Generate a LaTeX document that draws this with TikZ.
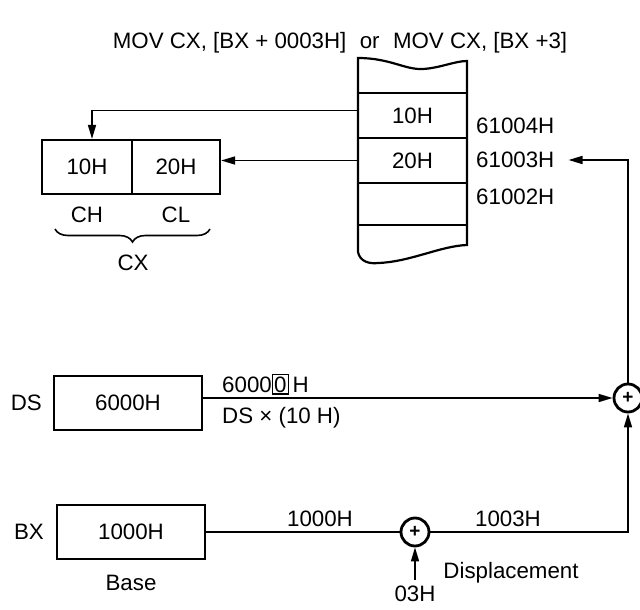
\documentclass[tikz,border=0pt]{standalone}
\usepackage{fontspec}
\setmainfont{Liberation Sans}
\usetikzlibrary{arrows.meta,decorations.pathreplacing}
\begin{document}
\begin{tikzpicture}[x=1pt,y=-1pt,
  txt/.style={font=\fontsize{22.3}{26}\selectfont, inner sep=0pt},
  reg/.style={draw, line width=2.2pt, minimum width=148pt, minimum height=54pt, txt},
  cell/.style={draw, line width=2.2pt, minimum height=54pt, txt},
  memcell/.style={minimum width=109pt, minimum height=45pt, txt},
  adder/.style={draw, circle, line width=2.8pt, minimum size=28pt, inner sep=0pt, font=\fontsize{19}{19}\selectfont\bfseries},
  conn/.style={line width=1.6pt},
  arr/.style={conn, -{Triangle[length=14pt,width=8pt]}}
]
\useasboundingbox (0,0) rectangle (640,610);

% title
\node[txt] (title) at (340,43) {MOV CX, [BX + 0003H]\hspace{0.6em}or\hspace{0.6em}MOV CX, [BX +3]};

% memory column
\draw[line width=2.2pt] (358,58) .. controls (390,58) and (405,70) .. (423,69)
  .. controls (440,68) and (455,61) .. (467,61) -- (467,245)
  .. controls (440,246) and (410,262) .. (378,263)
  .. controls (370,264) and (360,262) .. (358,252) -- cycle;
\foreach \yy in {93,138,183,225} \draw[line width=2.2pt] (358,\yy) -- (467,\yy);
\node[memcell] (m4) at (412.5,115.5) {10H};
\node[memcell] (m3) at (412.5,160.5) {20H};
\node[txt, anchor=west] (a4) at (476,126) {61004H};
\node[txt, anchor=west] (a3) at (476,160) {61003H};
\node[txt, anchor=west] (a2) at (476,197) {61002H};

% CX register
\node[cell, minimum width=90pt] (ch) at (87,167) {10H};
\node[cell, minimum width=88pt] (cl) at (176,167) {20H};
\node[txt] (chl) at (87,215) {CH};
\node[txt] (cll) at (176,215) {CL};
\draw[line width=1.6pt, decorate, decoration={brace, mirror, amplitude=13pt}] (55,229) -- (210,229);
\node[txt] (cx) at (133,263) {CX};

\draw[arr] ([yshift=5pt]m4.west) -| ([xshift=5pt]ch.north);
\draw[arr] (m3.west) -- (m3.west -| cl.east);

% DS
\node[txt, anchor=east] (dsl) at (42,403) {DS};
\node[reg] (ds) at (128,403) {6000H};
\node[adder] (p1) at (628,398) {+};
\draw[arr] (ds.east |- p1.west) -- (p1.west);
\node[txt, anchor=base west] (lab6) at (222,392) {\setlength{\fboxsep}{1pt}\setlength{\fboxrule}{1.4pt}6000\fbox{0}\,H};
\node[txt, anchor=north west] (labds) at (222,407) {DS × (10 H)};

% BX
\node[txt, anchor=east] (bxl) at (44,532) {BX};
\node[reg] (bx) at (131,532) {1000H};
\node[txt] (base) at (131,583) {Base};
\node[adder] (p2) at (415,532) {+};
\draw[conn] (bx.east) -- (p2.west);
\node[txt, anchor=south] (l1000) at (320,527) {1000H};
\node[txt, anchor=south] (l1003) at (508,527) {1003H};
\draw[arr] (p2.east) -| (p1.south);
\node[txt] (disp) at (511,573) {Displacement};
\node[txt] (d03) at (415,594) {03H};
\draw[arr] ([yshift=6pt]d03.north) -- (p2.south);

% address arrow
\draw[arr] (p1.north) |- ([xshift=14pt]a3.east);
\end{tikzpicture}
\end{document}
